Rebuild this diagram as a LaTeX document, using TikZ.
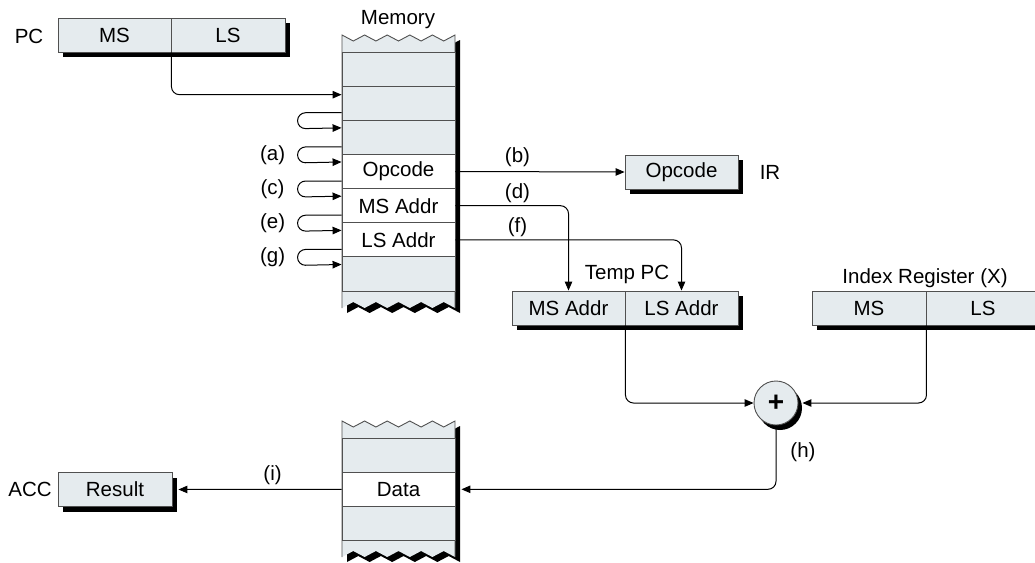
\documentclass[tikz,border=0pt]{standalone}
\usepackage{fontspec}
\setmainfont{Liberation Sans}
\usetikzlibrary{arrows.meta,calc,shadows}
\definecolor{regfill}{RGB}{229,235,238}
\definecolor{bordergray}{RGB}{80,80,80}
\begin{document}
\begin{tikzpicture}[x=1pt,y=-1pt,
  every node/.style={font=\fontsize{20.5}{24}\selectfont, inner sep=0pt},
  cell/.style={draw=bordergray, line width=0.9pt, minimum width=113pt, minimum height=34.15pt, fill=regfill},
  wcell/.style={cell, fill=white},
  regbox/.style={draw=bordergray, line width=0.9pt, fill=regfill, minimum height=34pt,
    general shadow={fill=black, shadow xshift=5pt, shadow yshift=-5pt}},
  conn/.style={line width=1pt, draw=black},
  arr/.style={conn, -{Triangle[length=9pt,width=7.5pt]}},
  rc/.style={rounded corners=8pt},
  border/.style={draw=bordergray, line width=0.9pt}
]
\useasboundingbox (0,0) rectangle (1035,562);
\clip (0,0) rectangle (1035,562);

% memory outlines (shadow, fill, border)
\foreach \ya/\yb/\yc/\yd in {35/41/302/308, 421/427/551/557} {
  \fill[black, shift={(5,5)}] (342,\ya)
    \foreach \k in {0,...,4} { -- ({342+11.3+22.6*\k},\yb) -- ({342+22.6*(\k+1)},\ya) }
    -- (455,\yd)
    \foreach \k in {0,...,4} { -- ({455-11.3-22.6*\k},\yc) -- ({455-22.6*(\k+1)},\yd) }
    -- cycle;
  \fill[regfill] (342,\ya)
    \foreach \k in {0,...,4} { -- ({342+11.3+22.6*\k},\yb) -- ({342+22.6*(\k+1)},\ya) }
    -- (455,\yd)
    \foreach \k in {0,...,4} { -- ({455-11.3-22.6*\k},\yc) -- ({455-22.6*(\k+1)},\yd) }
    -- cycle;
  \draw[border] (342,\yd) -- (342,\ya)
    \foreach \k in {0,...,4} { -- ({342+11.3+22.6*\k},\yb) -- ({342+22.6*(\k+1)},\ya) }
    -- (455,\yd);
}

% memory cells (top)
\node[cell]  (mA1) at (398.5,69.1) {};
\node[cell]  (mA2) at (398.5,103.2) {};
\node[cell]  (mA3) at (398.5,137.4) {};
\node[wcell] (mA4) at (398.5,171.5) {Opcode};
\node[wcell] (mA5) at (398.5,205.7) {MS Addr};
\node[wcell] (mA6) at (398.5,239.9) {LS Addr};
\node[cell]  (mA7) at (398.5,274.0) {};
\node (memlbl) at (398,20) {Memory};

% memory cells (bottom)
\node[cell]  (mB1) at (398.5,455.2) {};
\node[wcell] (mB2) at (398.5,489.3) {Data};
\node[cell]  (mB3) at (398.5,523.4) {};

% registers
\node[regbox, minimum width=113pt] (pcms) at (114.5,35) {MS};
\node[regbox, minimum width=114pt] (pcls) at (228,35) {LS};
\node (pclbl) at (29,36) {PC};

\node[regbox, minimum width=113pt] (ir) at (681.5,172) {Opcode};
\node (irlbl) at (770,172) {IR};

\node[regbox, minimum width=113pt] (tms) at (568.5,308) {MS Addr};
\node[regbox, minimum width=113pt] (tls) at (681.5,308) {LS Addr};
\node (tpclbl) at (627,274) {Temp PC};

\node[regbox, minimum width=114pt] (xms) at (869,308) {MS};
\node[regbox, minimum width=114pt] (xls) at (983,308) {LS};
\node (xlbl) at (925,278) {Index Register (X)};

\node[regbox, minimum width=114pt] (acc) at (115,489.5) {Result};
\node (acclbl) at (30,489) {ACC};

\node[circle, draw=bordergray, line width=0.9pt, fill=regfill, minimum size=44pt,
  general shadow={fill=black, shadow xshift=4pt, shadow yshift=-5pt}] (sum) at (776,403) {\fontsize{28}{28}\selectfont\textbf{+}};

% connectors
\draw[arr, rc] (pcms.south east) |- ($(mA2.north west)+(0,9)$);
\foreach \a/\b in {mA2/mA3, mA3/mA4, mA4/mA5, mA5/mA6, mA6/mA7} {
  \draw[arr, rc] ($(\a.south west)+(0,-8)$) -- ++(-44,0) -- ++(0,16) -- ($(\b.north west)+(0,8)$);
}
\node (la) at ($(mA3.south west)+(-69,0)$) {(a)};
\node (lc) at ($(mA4.south west)+(-69,0)$) {(c)};
\node (le) at ($(mA5.south west)+(-69,0)$) {(e)};
\node (lg) at ($(mA6.south west)+(-69,0)$) {(g)};

\draw[arr] (mA4.east) -- (ir.west);
\node (lb) at ($(mA4.east)+(62,-14)$) {(b)};
\draw[arr, rc] (mA5.east) -| (tms.north);
\node (ld) at ($(mA5.east)+(62,-13)$) {(d)};
\draw[arr, rc] (mA6.east) -| (tls.north);
\node (lf) at ($(mA6.east)+(62,-13)$) {(f)};

\draw[arr, rc] (tms.south east) |- (sum.west);
\draw[arr, rc, shorten >=4pt] (xms.south east) |- (sum.east);
\draw[arr, rc, shorten >=6pt] (sum.south) |- (mB2.east);
\node (lh) at ($(sum.south)+(27,27)$) {(h)};

\draw[arr, shorten >=6pt] (mB2.west) -- (acc.east);
\node (li) at ($(mB2.west)+(-69,-14)$) {(i)};
\end{tikzpicture}
\end{document}
